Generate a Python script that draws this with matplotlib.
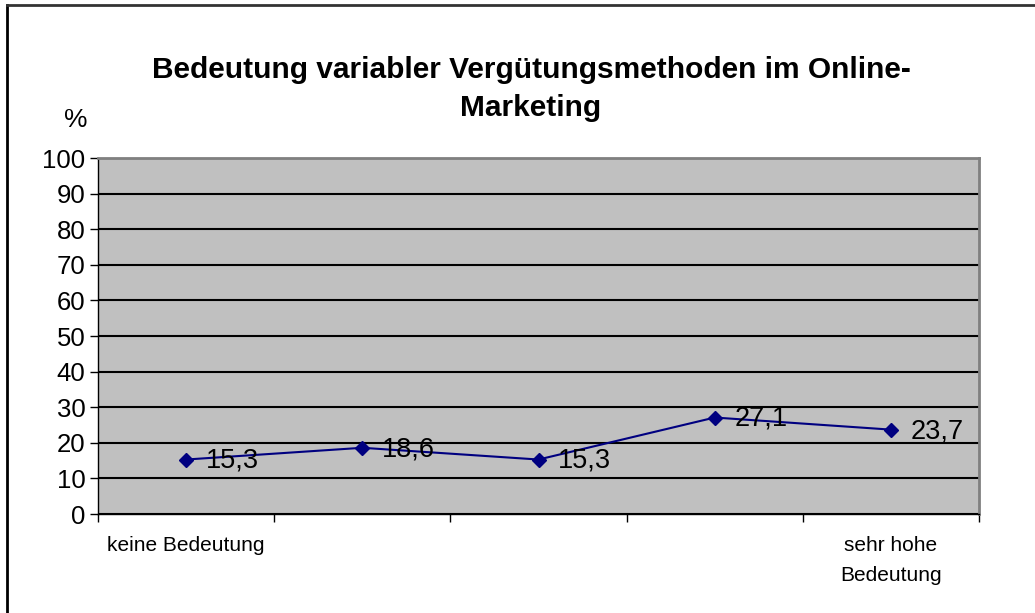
import matplotlib.pyplot as plt
import numpy as np
from matplotlib.lines import Line2D

plt.rcParams['font.family'] = ['Liberation Sans', 'DejaVu Sans']

# Daten
kategorien = ['keine Bedeutung', '', '', '', 'sehr hohe\nBedeutung']
werte = [15.3, 18.6, 15.3, 27.1, 23.7]
y_ticks = [0, 10, 20, 30, 40, 50, 60, 70, 80, 90, 100]

W, H = 1035, 613
fig = plt.figure(figsize=(W / 100, H / 100), dpi=100)
ax = fig.add_axes([98 / W, 1 - 514 / H, (979 - 98) / W, (514 - 158) / H])
ax.set_facecolor('#c0c0c0')

x = np.arange(len(werte))
ax.plot(x, werte, color='#000080', lw=1.5, marker='D', markersize=7, zorder=3)
for xi, v in zip(x, werte):
    ax.annotate(f'{v:.1f}'.replace('.', ','), (xi, v), xytext=(14, -1),
                textcoords='offset points', ha='left', va='center',
                fontsize=19.5, color='black', zorder=4)

ax.set_xlim(-0.5, len(werte) - 0.5)
ax.set_ylim(0, 100)
ax.set_yticks(y_ticks)
ax.tick_params(axis='y', labelsize=18.5, length=6, width=1, direction='out', pad=3)
ax.yaxis.grid(True, color='black', lw=1.5)
ax.set_axisbelow(True)

ax.set_xticks(np.arange(-0.5, len(werte)), labels=[''] * (len(werte) + 1))
ax.set_xticks(x, labels=kategorien, minor=True)
ax.tick_params(axis='x', which='major', length=6, width=1, direction='out')
ax.tick_params(axis='x', which='minor', length=0, labelsize=15, pad=16)
for lbl in ax.get_xticklabels(minor=True):
    lbl.set_linespacing(1.75)

for s in ['top', 'right']:
    ax.spines[s].set_color('#808080')
    ax.spines[s].set_linewidth(2)
for s in ['left', 'bottom']:
    ax.spines[s].set_color('black')
    ax.spines[s].set_linewidth(1)

fig.text(531 / W, 1 - 89 / H, 'Bedeutung variabler Vergütungsmethoden im Online-\nMarketing',
         ha='center', va='center', fontsize=21.5, fontweight='bold', linespacing=1.42)
fig.text(76 / W, 1 - 120 / H, '%', ha='center', va='center', fontsize=19)

# Rahmen
fig.add_artist(Line2D([7 / W, 7 / W], [0, 1 - 5 / H], color='black', lw=2))
fig.add_artist(Line2D([7 / W, 1], [1 - 5 / H, 1 - 5 / H], color='#333333', lw=2))

fig.savefig('out.png', dpi=100)
